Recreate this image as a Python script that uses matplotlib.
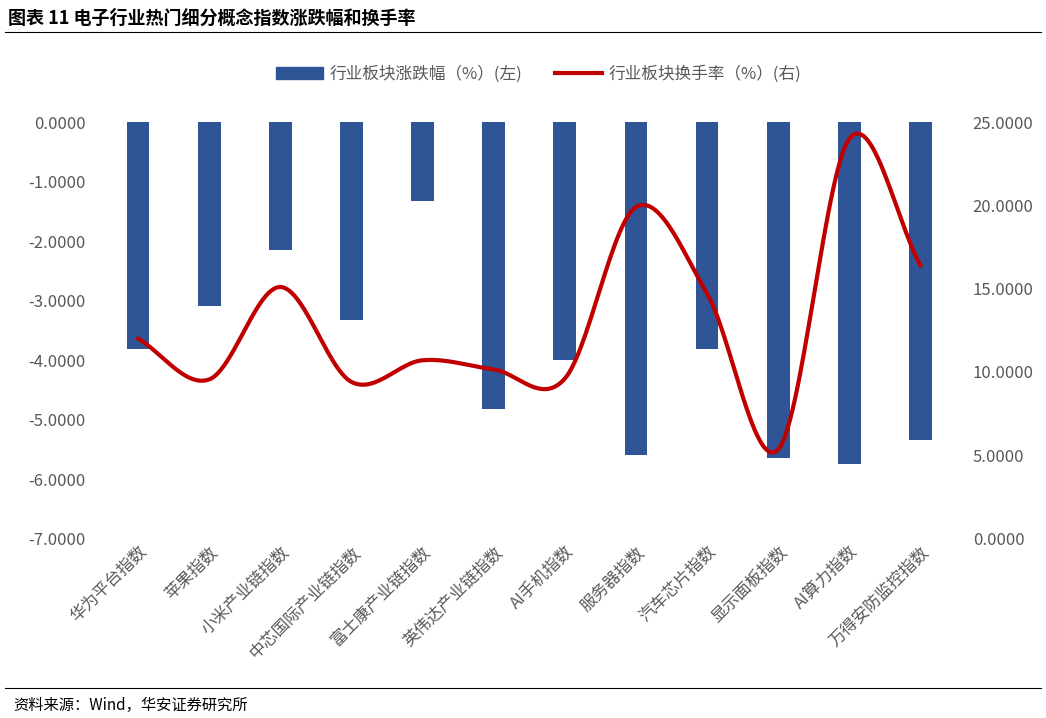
import numpy as np
import matplotlib
matplotlib.use("Agg")
import matplotlib.pyplot as plt
from matplotlib.lines import Line2D

plt.rcParams['font.family'] = ['Noto Sans CJK SC']

categories = ["华为平台指数", "苹果指数", "小米产业链指数", "中芯国际产业链指数", "富士康产业链指数",
              "英伟达产业链指数", "AI手机指数", "服务器指数", "汽车芯片指数", "显示面板指数",
              "AI算力指数", "万得安防监控指数"]
change_pct = [-3.82, -3.10, -2.15, -3.33, -1.32, -4.82, -4.00, -5.60, -3.82, -5.65, -5.75, -5.35]
turnover = [12.0, 9.55, 15.1, 9.4, 10.7, 10.15, 9.6, 19.9, 14.7, 5.35, 24.0, 16.4]

def catmull(x, y, n=30):
    x = np.asarray(x, float); y = np.asarray(y, float)
    px = np.concatenate([[2*x[0]-x[1]], x, [2*x[-1]-x[-2]]])
    py = np.concatenate([[2*y[0]-y[1]], y, [2*y[-1]-y[-2]]])
    X, Y = [], []
    for i in range(1, len(px)-2):
        t = np.linspace(0, 1, n, endpoint=False)
        for arr, out in ((px, X), (py, Y)):
            p0, p1, p2, p3 = arr[i-1], arr[i], arr[i+1], arr[i+2]
            out.extend(0.5*((2*p1) + (-p0+p2)*t + (2*p0-5*p1+4*p2-p3)*t**2 + (-p0+3*p1-3*p2+p3)*t**3))
    X.append(x[-1]); Y.append(y[-1])
    return np.array(X), np.array(Y)

fig = plt.figure(figsize=(10.46, 7.18), dpi=100)
ax = fig.add_axes([0.098, 0.25, 0.816, 0.58])
x = np.arange(len(categories))
bar_color = "#2F5597"
red = "#C00000"
ax.bar(x, change_pct, width=0.32, color=bar_color, zorder=2)
ax.set_ylim(-7, 0)
ax.set_yticks(np.arange(-7, 0.1, 1))
ax.set_yticklabels([f"{v:.4f}" for v in np.arange(-7, 0.1, 1)])
ax.set_xlim(-0.5, len(categories)-0.5)
ax.set_xticks(x)
ax.set_xticklabels(categories, rotation=45, ha='right', rotation_mode='anchor')
ax2 = ax.twinx()
sx, sy = catmull(x, turnover)
ax2.plot(sx, sy, color=red, lw=3, zorder=3)
ax2.set_ylim(0, 25)
ax2.set_yticks(np.arange(0, 25.1, 5))
ax2.set_yticklabels([f"{v:.4f}" for v in np.arange(0, 25.1, 5)])
for a in (ax, ax2):
    for s in a.spines.values():
        s.set_visible(False)
    a.tick_params(length=0, labelsize=12, colors="#595959")
ax.tick_params(axis='y', pad=12)
ax2.tick_params(axis='y', pad=12)

handles = [plt.Rectangle((0, 0), 1, 1, color=bar_color), Line2D([0], [0], color=red, lw=3)]
fig.legend(handles, ["行业板块涨跌幅（%）(左)", "行业板块换手率（%）(右)"], loc='center',
           bbox_to_anchor=(0.515, 0.897), ncol=2, frameon=False, fontsize=12,
           labelcolor="#595959", handlelength=2.8, handletextpad=0.4, columnspacing=2.0)

fig.text(0.008, 0.975, "图表 11 电子行业热门细分概念指数涨跌幅和换手率", fontsize=13, fontweight='bold', va='center')
fig.add_artist(Line2D([0.005, 0.995], [0.955, 0.955], color='black', lw=0.8))
fig.add_artist(Line2D([0.005, 0.995], [0.042, 0.042], color='black', lw=0.8))
fig.text(0.013, 0.018, "资料来源：Wind，华安证券研究所", fontsize=11, va='center')
fig.savefig("out.png", dpi=100)
